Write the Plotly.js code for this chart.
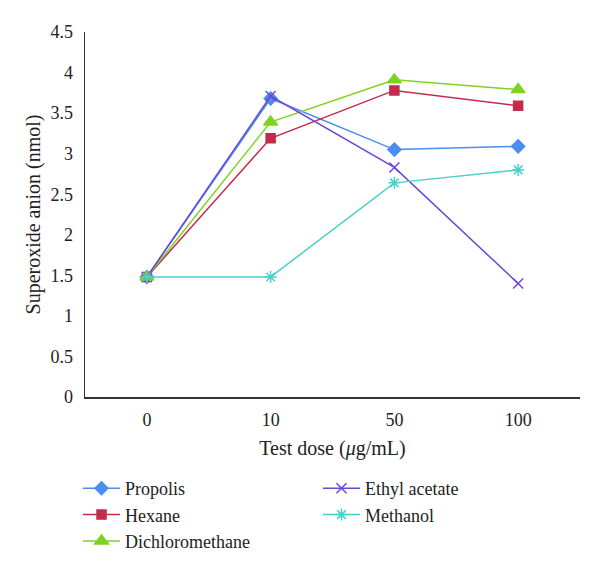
<!DOCTYPE html>
<html>
<head>
<meta charset="utf-8">
<script src="https://cdn.plot.ly/plotly-3.0.1.min.js"></script>
<style>html,body{margin:0;padding:0;background:#fff;}#chart{width:600px;height:572px;}</style>
</head>
<body>
<div id="chart"></div>
<script>
const doses = ['0', '10', '50', '100'];
const propolis = [1.48, 3.68, 3.05, 3.09];
const hexane = [1.48, 3.19, 3.78, 3.59];
const dichloromethane = [1.48, 3.39, 3.91, 3.79];
const ethylAcetate = [1.48, 3.71, 2.83, 1.40];
const methanol = [1.48, 1.48, 2.64, 2.80];
const yTicks = [0, 0.5, 1, 1.5, 2, 2.5, 3, 3.5, 4, 4.5];

const F = 'Liberation Serif, Times New Roman, serif';
function tr(name, y, color, symbol, size, legend) {
  return {
    type: 'scatter', mode: 'lines+markers', name: name, x: doses, y: y,
    line: {color: color, width: 1.5},
    marker: {color: color, symbol: symbol, size: size, line: {color: color, width: 1.5}},
    legend: legend
  };
}
const data = [
  tr('Propolis', propolis, '#4A8EF0', 'diamond', 10, 'legend'),
  tr('Hexane', hexane, '#C62A4A', 'square', 9, 'legend'),
  tr('Dichloromethane', dichloromethane, '#7ED321', 'triangle-up', 12, 'legend'),
  tr('Ethyl acetate', ethylAcetate, '#6A48D6', 'x-thin-open', 10, 'legend2'),
  tr('Methanol', methanol, '#48D1CC', 'asterisk-open', 10, 'legend2')
];
const legendCommon = {
  orientation: 'v', xanchor: 'left', yanchor: 'top', yref: 'paper',
  font: {family: F, size: 18, color: '#222'}, bgcolor: 'rgba(0,0,0,0)',
  tracegroupgap: 0, itemwidth: 37
};
const layout = {
  width: 600, height: 572,
  margin: {l: 85, r: 20, t: 32, b: 175, autoexpand: false},
  paper_bgcolor: '#fff', plot_bgcolor: '#fff',
  font: {family: F, color: '#222'},
  showlegend: true,
  xaxis: {
    type: 'category', range: [-0.5, 3.5], showgrid: false, zeroline: false,
    showline: true, linecolor: '#333', linewidth: 1.5, ticks: '', ticklabelstandoff: 6,
    tickfont: {family: F, size: 18, color: '#222'},
    title: {text: 'Test dose (<i>μ</i>g/mL)', font: {family: F, size: 20, color: '#222'}, standoff: 12}
  },
  yaxis: {
    range: [0, 4.5], tickvals: yTicks, ticktext: yTicks.map(String), showgrid: false, zeroline: false,
    showline: true, linecolor: '#333', linewidth: 1.5, ticks: '', ticklabelstandoff: 7,
    tickfont: {family: F, size: 18, color: '#222'},
    title: {text: 'Superoxide anion (nmol)', font: {family: F, size: 20, color: '#222'}, standoff: 4}
  },
  legend: Object.assign({}, legendCommon, {x: -0.0141, y: -0.2}),
  legend2: Object.assign({}, legendCommon, {x: 0.4707, y: -0.2})
};
Plotly.newPlot('chart', data, layout, {displayModeBar: false, staticPlot: true});
</script>
</body>
</html>
